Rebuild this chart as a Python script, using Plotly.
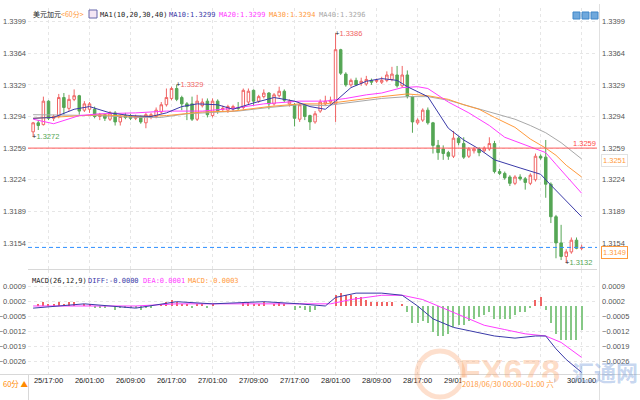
import plotly.graph_objects as go
import pandas as pd

# ---------------- data ----------------
start_time = "2018-06-25 14:00"
open_ = [1.3277,1.3287,1.3285,1.3311,1.3292,1.3294,1.3315,1.3303,1.3313,1.3317,
         1.3301,1.3302,1.3302,1.3294,1.3296,1.3291,1.3298,1.3288,1.3295,1.3295,
         1.3292,1.3294,1.3287,1.3293,1.3294,1.3299,1.3307,1.3314,1.3325,1.3315,
         1.3308,1.3308,1.3291,1.3306,1.3311,1.3295,1.3311,1.3302,1.3301,1.3303,
         1.3304,1.3304,1.3310,1.3323,1.3311,1.3316,1.3320,1.3308,1.3317,1.3322,
         1.3308,1.3307,1.3291,1.3307,1.3295,1.3288,1.3300,1.3308,1.3310,1.3308,
         1.3368,1.3341,1.3329,1.3334,1.3331,1.3330,1.3334,1.3333,1.3332,1.3334,
         1.3335,1.3340,1.3328,1.3340,1.3316,1.3287,1.3290,1.3301,1.3287,1.3262,
         1.3258,1.3254,1.3250,1.3270,1.3264,1.3250,1.3256,1.3258,1.3256,1.3258,
         1.3264,1.3233,1.3231,1.3227,1.3220,1.3227,1.3225,1.3220,1.3224,1.3250,
         1.3249,1.3219,1.3183,1.3154,1.3139,1.3144,1.3157,1.3148]
high_ = [1.3288,1.3290,1.3316,1.3312,1.3296,1.3319,1.3320,1.3318,1.3324,1.3318,
         1.3311,1.3310,1.3305,1.3298,1.3297,1.3300,1.3300,1.3296,1.3298,1.3297,
         1.3296,1.3295,1.3298,1.3298,1.3304,1.3310,1.3325,1.3327,1.3329,1.3317,
         1.3310,1.3316,1.3318,1.3314,1.3314,1.3314,1.3313,1.3306,1.3307,1.3307,
         1.3310,1.3325,1.3325,1.3324,1.3318,1.3324,1.3321,1.3320,1.3327,1.3324,
         1.3313,1.3309,1.3309,1.3308,1.3296,1.3300,1.3313,1.3317,1.3316,1.3386,
         1.3369,1.3343,1.3336,1.3337,1.3337,1.3339,1.3336,1.3336,1.3338,1.3344,
         1.3349,1.3350,1.3350,1.3345,1.3317,1.3292,1.3303,1.3304,1.3288,1.3268,
         1.3262,1.3256,1.3278,1.3272,1.3271,1.3260,1.3260,1.3260,1.3261,1.3271,
         1.3267,1.3236,1.3233,1.3229,1.3229,1.3230,1.3227,1.3231,1.3253,1.3252,
         1.3268,1.3221,1.3185,1.3174,1.3147,1.3160,1.3160,1.3152]
low_ = [1.3272,1.3279,1.3284,1.3290,1.3289,1.3292,1.3296,1.3300,1.3311,1.3296,
        1.3299,1.3298,1.3292,1.3290,1.3289,1.3289,1.3284,1.3284,1.3291,1.3290,
        1.3290,1.3286,1.3281,1.3291,1.3292,1.3297,1.3305,1.3312,1.3311,1.3301,
        1.3290,1.3289,1.3289,1.3304,1.3293,1.3293,1.3297,1.3299,1.3298,1.3300,
        1.3301,1.3302,1.3307,1.3306,1.3309,1.3314,1.3302,1.3306,1.3315,1.3310,
        1.3305,1.3283,1.3288,1.3290,1.3279,1.3286,1.3298,1.3306,1.3307,1.3288,
        1.3340,1.3327,1.3327,1.3328,1.3328,1.3328,1.3329,1.3331,1.3330,1.3332,
        1.3333,1.3326,1.3326,1.3314,1.3276,1.3285,1.3288,1.3285,1.3253,1.3246,
        1.3246,1.3246,1.3248,1.3262,1.3247,1.3248,1.3253,1.3250,1.3254,1.3256,
        1.3231,1.3229,1.3224,1.3217,1.3218,1.3223,1.3213,1.3218,1.3222,1.3246,
        1.3204,1.3176,1.3137,1.3135,1.3132,1.3142,1.3147,1.3146]
close_ = [1.3287,1.3284,1.3311,1.3292,1.3294,1.3315,1.3304,1.3313,1.3317,1.3300,
          1.3308,1.3308,1.3294,1.3296,1.3292,1.3298,1.3288,1.3294,1.3293,1.3292,
          1.3294,1.3288,1.3296,1.3296,1.3301,1.3307,1.3315,1.3325,1.3313,1.3308,
          1.3305,1.3291,1.3311,1.3310,1.3296,1.3311,1.3300,1.3303,1.3305,1.3305,
          1.3303,1.3323,1.3322,1.3311,1.3316,1.3320,1.3308,1.3318,1.3322,1.3312,
          1.3311,1.3292,1.3307,1.3294,1.3288,1.3297,1.3310,1.3311,1.3312,1.3368,
          1.3342,1.3329,1.3334,1.3329,1.3333,1.3335,1.3332,1.3334,1.3334,1.3340,
          1.3341,1.3328,1.3340,1.3316,1.3288,1.3290,1.3301,1.3287,1.3262,1.3254,
          1.3253,1.3250,1.3270,1.3265,1.3249,1.3258,1.3258,1.3254,1.3259,1.3264,
          1.3233,1.3231,1.3226,1.3220,1.3227,1.3225,1.3221,1.3229,1.3250,1.3248,
          1.3219,1.3183,1.3154,1.3139,1.3144,1.3157,1.3148,1.3149]

# moving averages at selected candles (candle index, value)
ma10_idx = [0,4,8,11,15,19,23,26,29,32,36,39,43,47,51,54,57,59,62,65,68,71,73,77,81,84,87,90,95,99,101,104,107]
ma10_val = [1.3292,1.3293,1.3302,1.3305,1.3298,1.3295,1.3294,1.3298,1.3305,1.3308,1.3307,1.3302,1.3309,1.3315,
            1.3311,1.3305,1.3302,1.3311,1.3326,1.3333,1.3336,1.3334,1.3327,1.3316,1.3281,1.3268,1.3258,1.3246,
            1.3237,1.3230,1.3218,1.3201,1.3183]
ma20_idx = [0,4,9,13,20,26,33,39,45,52,57,61,65,68,72,75,77,81,85,89,92,97,100,102,104,107]
ma20_val = [1.3291,1.3286,1.3295,1.3297,1.3298,1.3300,1.3300,1.3303,1.3308,1.3311,1.3311,1.3314,1.3318,1.3320,
            1.3326,1.3327,1.3325,1.3310,1.3298,1.3284,1.3271,1.3260,1.3254,1.3241,1.3228,1.3209]
ma30_idx = [0,7,13,20,26,33,39,46,52,57,62,68,73,77,81,84,87,90,94,97,100,102,104,107]
ma30_val = [1.3292,1.3294,1.3296,1.3294,1.3295,1.3299,1.3300,1.3305,1.3308,1.3308,1.3312,1.3316,1.3319,1.3317,
            1.3313,1.3307,1.3302,1.3293,1.3282,1.3269,1.3259,1.3251,1.3240,1.3227]
ma40_idx = [0,13,20,25,30,36,40,46,52,57,62,68,73,77,81,87,94,97,100,103,105,107]
ma40_val = [1.3296,1.3295,1.3293,1.3293,1.3297,1.3299,1.3300,1.3304,1.3307,1.3306,1.3310,1.3314,1.3316,1.3316,
            1.3312,1.3302,1.3291,1.3284,1.3276,1.3265,1.3256,1.3247]

# MACD panel
diff_idx = [0,10,20,28,35,45,52,57,59,63,68,72,75,78,82,86,90,94,98,100,102,104,107]
diff_val = [-0.0001,0.0001,-0.0001,0.0002,0.0001,0.0002,0.0001,0.0000,0.0004,0.0006,0.0006,0.0005,0.0000,
            -0.0006,-0.0010,-0.0012,-0.0014,-0.0015,-0.0014,-0.0014,-0.0020,-0.0025,-0.0031]
dea_idx = [0,10,20,28,35,45,52,58,62,68,72,76,80,84,88,92,96,100,103,107]
dea_val = [0.0000,0.0000,0.0000,0.0001,0.0001,0.0001,0.0001,0.0001,0.0003,0.0005,0.0005,0.0003,-0.0001,
           -0.0005,-0.0009,-0.0011,-0.0013,-0.0014,-0.0017,-0.0024]
macd_hist = [0.0000,0.0001,0.0002,0.0001,0.0001,0.0002,0.0001,0.0002,0.0002,0.0000,
             0.0001,0.0001,-0.0001,-0.0001,-0.0001,0.0000,-0.0002,-0.0001,-0.0001,-0.0001,
             -0.0001,-0.0002,-0.0001,-0.0001,0.0000,0.0001,0.0002,0.0003,0.0002,0.0001,
             0.0001,-0.0001,0.0001,0.0001,-0.0001,0.0001,0.0000,0.0000,0.0000,0.0000,
             0.0000,0.0002,0.0002,0.0001,0.0001,0.0002,0.0000,0.0001,0.0002,0.0001,
             0.0000,-0.0002,-0.0001,-0.0002,-0.0003,-0.0002,0.0000,0.0000,0.0000,0.0005,
             0.0006,0.0005,0.0005,0.0004,0.0004,0.0003,0.0002,0.0002,0.0002,0.0002,
             0.0002,0.0000,0.0001,-0.0003,-0.0008,-0.0008,-0.0007,-0.0008,-0.0012,-0.0014,
             -0.0014,-0.0013,-0.0010,-0.0009,-0.0009,-0.0007,-0.0006,-0.0005,-0.0004,-0.0003,
             -0.0006,-0.0006,-0.0006,-0.0006,-0.0004,-0.0003,-0.0003,-0.0001,0.0003,0.0004,
             -0.0002,-0.0008,-0.0013,-0.0016,-0.0016,-0.0016,-0.0016,-0.0011]

price_ticks = [1.3154, 1.3189, 1.3224, 1.3259, 1.3294, 1.3329, 1.3364, 1.3399]
macd_ticks = [0.0009, 0.0002, -0.0005, -0.0012, -0.0019, -0.0026]
ref_line = 1.3259
last_price = 1.3149

# ---------------- styling helpers ----------------
W, H = 640, 400
ML, MR, MT, MB = 28, 43, 0, 26
PW, PH = W - ML - MR, H - MT - MB


def px(x):
    return (x - ML) / PW


def py(y):
    return (H - MB - y) / PH


RED = "#f06464"
GREEN = "#55a655"
NAVY = "#3a3aa8"
MAGENTA = "#ff3cff"
ORANGE = "#ff9a3c"
GRAY = "#a8a8a8"
TXT = "#555555"

times = pd.date_range(start_time, periods=len(close_), freq="h")

fig = go.Figure()

# price panel
fig.add_trace(go.Candlestick(
    x=times, open=open_, high=high_, low=low_, close=close_,
    increasing=dict(line=dict(color=RED, width=1), fillcolor="white"),
    decreasing=dict(line=dict(color=GREEN, width=1), fillcolor=GREEN),
    xaxis="x2", yaxis="y", showlegend=False, hoverinfo="skip"))
for idx, val, col in [(ma40_idx, ma40_val, GRAY), (ma30_idx, ma30_val, ORANGE),
                      (ma20_idx, ma20_val, MAGENTA), (ma10_idx, ma10_val, NAVY)]:
    fig.add_trace(go.Scatter(x=[times[i] for i in idx], y=val, mode="lines",
                             line=dict(color=col, width=1), xaxis="x2", yaxis="y",
                             showlegend=False, hoverinfo="skip"))
fig.add_trace(go.Scatter(x=[times[0]], y=[price_ticks[0]], mode="markers", marker=dict(opacity=0),
                         xaxis="x2", yaxis="y3", showlegend=False, hoverinfo="skip"))

# MACD panel
fig.add_trace(go.Bar(x=times, y=macd_hist,
                     marker=dict(color=[RED if v >= 0 else "#86c886" for v in macd_hist], line=dict(width=0)),
                     width=3600000 * 0.2, xaxis="x", yaxis="y2", showlegend=False, hoverinfo="skip"))
fig.add_trace(go.Scatter(x=[times[i] for i in dea_idx], y=dea_val, mode="lines",
                         line=dict(color=MAGENTA, width=1), xaxis="x", yaxis="y2",
                         showlegend=False, hoverinfo="skip"))
fig.add_trace(go.Scatter(x=[times[i] for i in diff_idx], y=diff_val, mode="lines",
                         line=dict(color=NAVY, width=1), xaxis="x", yaxis="y2",
                         showlegend=False, hoverinfo="skip"))
fig.add_trace(go.Scatter(x=[times[0]], y=[macd_ticks[0]], mode="markers", marker=dict(opacity=0),
                         xaxis="x", yaxis="y4", showlegend=False, hoverinfo="skip"))

price_top_px, price_bot_px = 8, 269
macd_top_px, macd_bot_px = 270, 374
ppp = 0.0035 / 31.6
price_range = [1.3399 - (price_bot_px - 21.7) * ppp, 1.3399 + (21.7 - price_top_px) * ppp]
mpp = 0.0007 / 15.0
macd_range = [0.0009 - (macd_bot_px - 286.7) * mpp, 0.0009 + (286.7 - macd_top_px) * mpp]

x_range = [times[0] - pd.Timedelta(hours=1), times[0] + pd.Timedelta(hours=110)]

tickfont = dict(family="Liberation Sans, Arial", size=7.5, color=TXT)
xaxis_common = dict(type="date", range=x_range, showgrid=True, gridcolor="#e6e6e6", griddash="dot",
                    tick0="2018-06-25 17:00", dtick=8 * 3600 * 1000, tickformat="%d/%H:%M",
                    zeroline=False, showline=False, ticks="", rangeslider=dict(visible=False))

fig.update_layout(
    width=W, height=H, margin=dict(l=ML, r=MR, t=MT, b=MB, autoexpand=False),
    paper_bgcolor="white", plot_bgcolor="white", hovermode=False, bargap=0,
    xaxis=dict(**xaxis_common, anchor="y2", domain=[0, 1], showticklabels=True,
               tickfont=dict(family="Liberation Sans, Arial", size=7.5, color="#222")),
    xaxis2=dict(**xaxis_common, anchor="y", domain=[0, 1], matches="x", showticklabels=False),
    yaxis=dict(domain=[py(price_bot_px), py(price_top_px)], range=price_range, side="right",
               tickvals=price_ticks, tickformat=".4f", tickfont=tickfont, showgrid=True,
               gridcolor="#e6e6e6", griddash="dot", zeroline=False, anchor="x2", ticks="",
               ticklabelstandoff=4),
    yaxis3=dict(overlaying="y", range=price_range, side="left", tickvals=price_ticks, tickformat=".4f",
                tickfont=tickfont, showgrid=False, zeroline=False, anchor="x2", ticks="",
                ticklabelstandoff=1),
    yaxis2=dict(domain=[py(macd_bot_px), py(macd_top_px)], range=macd_range, side="right",
                tickvals=macd_ticks, tickformat=".4f", tickfont=tickfont, showgrid=True,
                gridcolor="#e6e6e6", griddash="dot", zeroline=False, anchor="x", ticks="",
                ticklabelstandoff=4),
    yaxis4=dict(overlaying="y2", range=macd_range, side="left", tickvals=macd_ticks, tickformat=".4f",
                tickfont=tickfont, showgrid=False, zeroline=False, anchor="x", ticks="",
                ticklabelstandoff=1),
)

shapes = []
shapes.append(dict(type="line", xref="paper", yref="y", x0=0, x1=1, y0=ref_line, y1=ref_line,
                   line=dict(color="#ff5a5a", width=1)))
shapes.append(dict(type="line", xref="paper", yref="y", x0=0, x1=1, y0=last_price, y1=last_price,
                   line=dict(color="#2f8fff", width=1, dash="4px,3px")))
shapes.append(dict(type="line", xref="paper", yref="paper", x0=0, x1=1, y0=py(269.5), y1=py(269.5),
                   line=dict(color="#d8d8d8", width=1)))
shapes.append(dict(type="line", xref="paper", yref="paper", x0=px(0), x1=px(640), y0=py(374.5), y1=py(374.5),
                   line=dict(color="#d8d8d8", width=1)))
shapes.append(dict(type="line", xref="paper", yref="paper", x0=px(599.5), x1=px(599.5), y0=py(400), y1=py(4),
                   line=dict(color="#e0e0e0", width=1)))
shapes.append(dict(type="line", xref="paper", yref="paper", x0=px(28.5), x1=px(28.5), y0=py(400), y1=py(374),
                   line=dict(color="#d8d8d8", width=1)))
shapes.append(dict(type="circle", xref="paper", yref="paper", x0=px(417), x1=px(463), y0=py(397), y1=py(351),
                   line=dict(color="rgba(250,150,90,0.3)", width=5)))
shapes.append(dict(type="rect", xref="paper", yref="paper", x0=px(89), x1=px(97), y0=py(18), y1=py(10),
                   line=dict(color="#6666aa", width=1), fillcolor="#f4e6f4"))
for x0 in (573, 582, 591):
    shapes.append(dict(type="rect", xref="paper", yref="paper", x0=px(x0), x1=px(x0 + 7), y0=py(19), y1=py(12),
                       line=dict(color="#3f86c8", width=1), fillcolor="#6fa8dc"))
fig.update_layout(shapes=shapes)

MONO = "DejaVu Sans Mono"
anns = []


def txt(x, y, text, color, size=7, family=MONO, anchor="left", **kw):
    anns.append(dict(xref="paper", yref="paper", x=px(x), y=py(y), text=text, showarrow=False,
                     xanchor=anchor, yanchor="middle", font=dict(family=family, size=size, color=color), **kw))


txt(31, 14, "美元加元", "#222", size=7, family="Noto Sans CJK SC")
txt(59, 14, "&lt;60分&gt;", ORANGE, size=7, family="Noto Sans CJK SC")
txt(98, 15, "MA1(10,20,30,40)", "#222")
txt(167, 15, "MA10:1.3299", NAVY)
txt(217, 15, "MA20:1.3299", MAGENTA)
txt(267, 15, "MA30:1.3294", ORANGE)
txt(317, 15, "MA40:1.3296", GRAY)

txt(30, 281, "MACD(26,12,9)", "#222")
txt(86, 281, "DIFF:-0.0000", NAVY)
txt(141, 281, "DEA:0.0001", MAGENTA)
txt(186, 281, "MACD:-0.0003", ORANGE)

txt(598, 143, "1.3259", "#ff4a4a", size=7.5, family="Liberation Sans, Arial", anchor="right")
anns.append(dict(xref="paper", yref="paper", x=px(601), y=py(160.5), text="1.3251", showarrow=False,
                 xanchor="left", yanchor="middle", font=dict(family="Liberation Sans, Arial", size=7.5, color=ORANGE),
                 bgcolor="white", bordercolor="#e2e2e2", borderwidth=1, borderpad=1))
anns.append(dict(xref="paper", yref="paper", x=px(601), y=py(252.5), text="1.3149", showarrow=False,
                 xanchor="left", yanchor="middle", font=dict(family="Liberation Sans, Arial", size=7.5, color=ORANGE),
                 bgcolor="white", bordercolor=ORANGE, borderwidth=1, borderpad=1))

hi_i = high_.index(max(high_))
lo_i = low_.index(min(low_))
marks = [(0, low_[0], GREEN), (28, high_[28], RED), (hi_i, high_[hi_i], RED), (lo_i, low_[lo_i], GREEN)]
for i, v, col in marks:
    anns.append(dict(xref="x2", yref="y", x=times[i], y=v, xshift=-3, showarrow=False,
                     xanchor="left", yanchor="middle",
                     text="<span style='color:#222'>+</span>%.4f" % v,
                     font=dict(family="Liberation Sans, Arial", size=7.5, color=col)))

txt(1, 383, "60分 ▲", "#ff8a00", size=7.5, family="Noto Sans CJK SC", anchor="left")
txt(510, 371, "<b>FX678</b>", "rgba(250,165,110,0.4)", size=34, family="Liberation Sans, Arial", anchor="center")
txt(605, 371, "<b>汇通网</b>", "rgba(110,150,215,0.4)", size=22, family="Noto Sans CJK SC", anchor="center")
anns.append(dict(xref="paper", yref="paper", x=px(461), y=py(383), text="2018/06/30 00:00~01:00 六",
                 showarrow=False, xanchor="left", yanchor="middle", bgcolor="white", borderpad=0,
                 font=dict(family="Noto Sans CJK SC", size=7.5, color="#ff9a3c")))

fig.update_layout(annotations=anns)
fig.write_html("out.html", config={"displayModeBar": False},
               post_script="document.body.style.margin='0';document.body.style.padding='0';")
